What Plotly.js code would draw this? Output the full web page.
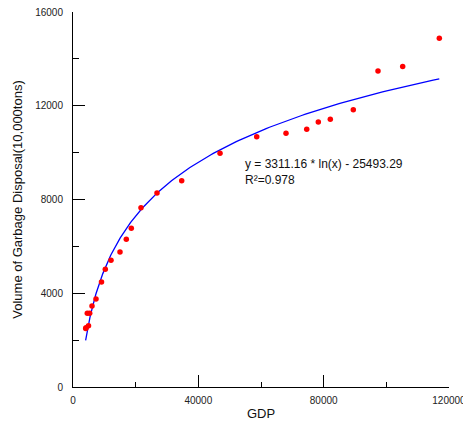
<!DOCTYPE html>
<html>
<head>
<meta charset="utf-8">
<script src="https://cdn.plot.ly/plotly-3.0.1.min.js"></script>
<style>html,body{margin:0;padding:0;background:#fff;}#chart{width:463px;height:421px;}</style>
</head>
<body>
<div id="chart"></div>
<script>
// Observed data (GDP vs. volume of garbage disposal, 10,000 tons)
const gdp = [4050, 4150, 4950, 4560, 5330, 6060, 7340, 9100, 10310, 12130, 15000, 17010, 18610, 21700, 26810, 34690, 46920, 58630, 67980, 74590, 78290, 82120, 89460, 97340, 105220, 116910];
const garbage = [2500, 2530, 2615, 3145, 3145, 3456, 3755, 4480, 5020, 5406, 5760, 6300, 6770, 7650, 8280, 8800, 9970, 10680, 10825, 10995, 11307, 11420, 11830, 13480, 13670, 14880];

// Logarithmic fit shown on the chart: y = a * ln(x) + b
const fitA = 3311.16;
const fitB = -25493.29;
const fitXStart = 4030;
const fitXEnd = 116900;
const fitLabel = 'y = 3311.16 * ln(x) - 25493.29<br>R\u00b2=0.978';

const xTickVals = [0, 40000, 80000, 120000];
const xTickText = ['0', '40000', '80000', '120000'];
const xMinorVals = [20000, 60000, 100000];
const yTickVals = [0, 4000, 8000, 12000, 16000];
const yTickText = ['0', '4000', '8000', '12000', '16000'];
const yMinorVals = [2000, 6000, 10000, 14000];

const fitX = [];
const fitY = [];
const nFit = 200;
for (let i = 0; i <= nFit; i++) {
  const x = Math.exp(Math.log(fitXStart) + (Math.log(fitXEnd) - Math.log(fitXStart)) * i / nFit);
  fitX.push(x);
  fitY.push(fitA * Math.log(x) + fitB);
}

const font = 'Liberation Sans, Arial, sans-serif';

const traces = [
  {x: fitX, y: fitY, type: 'scatter', mode: 'lines', line: {color: '#0000ff', width: 1.3}, hoverinfo: 'skip', showlegend: false},
  {x: gdp, y: garbage, type: 'scatter', mode: 'markers', marker: {color: '#ff0000', size: 5.5}, showlegend: false, cliponaxis: false}
];

const layout = {
  width: 463, height: 421,
  margin: {l: 73, r: 14, t: 12, b: 34},
  paper_bgcolor: '#ffffff', plot_bgcolor: '#ffffff',
  font: {family: font, color: '#222222', size: 10},
  showlegend: false,
  xaxis: {
    range: [0, 120000], showgrid: false, zeroline: false,
    showline: true, linecolor: '#000000', linewidth: 1,
    ticks: 'inside', ticklen: 12, tickcolor: '#000000', tickwidth: 1,
    tickvals: xTickVals, ticktext: xTickText,
    ticklabelstandoff: 4, ticklabeloverflow: 'allow',
    minor: {tickvals: xMinorVals, ticks: 'inside', ticklen: 5, tickcolor: '#000000', tickwidth: 1, showgrid: false},
    title: {text: 'GDP', font: {size: 13, color: '#111111'}, standoff: 4}
  },
  yaxis: {
    range: [0, 16000], showgrid: false, zeroline: false,
    showline: true, linecolor: '#000000', linewidth: 1,
    ticks: 'inside', ticklen: 12, tickcolor: '#000000', tickwidth: 1,
    tickvals: yTickVals, ticktext: yTickText,
    ticklabelstandoff: 7, ticklabeloverflow: 'allow',
    minor: {tickvals: yMinorVals, ticks: 'inside', ticklen: 6, tickcolor: '#000000', tickwidth: 1, showgrid: false},
    title: {text: 'Volume of Garbage Disposal(10,000tons)', font: {size: 13, color: '#111111'}, standoff: 9}
  },
  annotations: [{
    xref: 'paper', yref: 'paper', x: 0.452, y: 0.62,
    xanchor: 'left', yanchor: 'top', align: 'left', showarrow: false,
    text: fitLabel, font: {size: 12, color: '#111111', family: font}
  }]
};

Plotly.newPlot('chart', traces, layout, {staticPlot: true, displayModeBar: false});
</script>
</body>
</html>
